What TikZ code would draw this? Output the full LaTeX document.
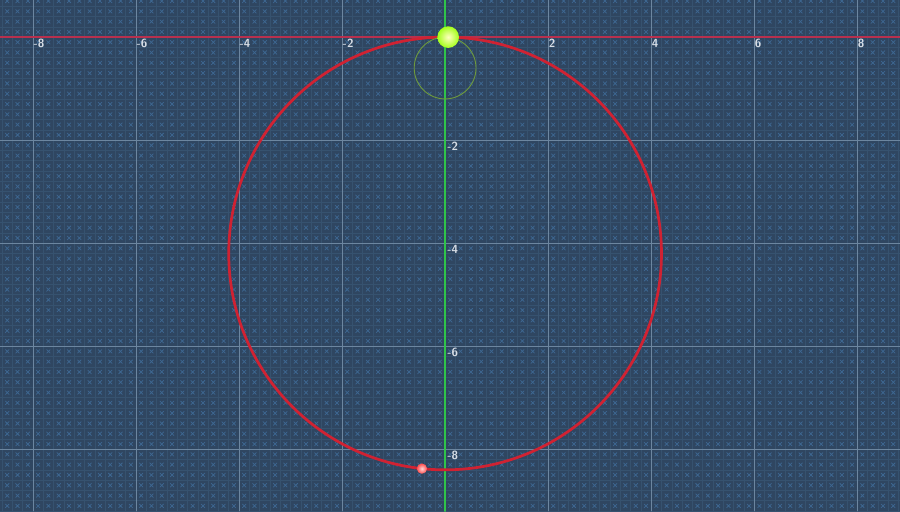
\documentclass[tikz,border=0pt]{standalone}
\usepackage{tikz}

\definecolor{fundo}{HTML}{2F4661}
\definecolor{gradefina}{HTML}{36526F}
\definecolor{xis}{HTML}{41709E}
\definecolor{grade}{HTML}{6C86A0}
\definecolor{eixox}{HTML}{B8304E}
\definecolor{eixoy}{HTML}{2FC44A}
\definecolor{circulo}{HTML}{D02232}
\definecolor{circpeq}{HTML}{6E9A3C}
\definecolor{rotulo}{HTML}{D8DEE6}

\begin{document}
\begin{tikzpicture}[line cap=round,line join=round,
  rotulo/.style={anchor=north west,inner sep=1pt,text=rotulo,font=\fontsize{6.5}{7}\selectfont\sffamily\bfseries}]

% parâmetros
\def\R{4.2}    % raio do círculo grande
\def\r{0.6}    % raio do círculo pequeno

%---------------------------
% fundo e grade
%---------------------------
\fill[fundo] (-8.64,-9.2) rectangle (8.83,0.72);
\useasboundingbox (-8.64,-9.2) rectangle (8.83,0.72);
\draw[gradefina,line width=0.3pt,step=0.2] (-8.64,-9.2) grid (8.83,0.72);
\draw[xis,line width=0.4pt,opacity=0.8]
  foreach \i in {-44,...,43} { foreach \j in {-46,...,3} {
    (\i*0.2+0.065,\j*0.2+0.065) -- ++(0.07,0.07)
    (\i*0.2+0.065,\j*0.2+0.135) -- ++(0.07,-0.07) } };
\draw[grade,line width=0.4pt,step=2] (-8.64,-9.2) grid (8.83,0.72);

%---------------------------
% eixos
%---------------------------
\draw[eixox,line width=0.8pt] (-8.64,0) -- (8.83,0);
\draw[eixoy,line width=0.9pt] (0,-9.2) -- (0,0.72);

% rótulos
\foreach \x in {-8,-6,-4,-2,2,4,6,8}
  \node[rotulo] (rx\x) at (\x-0.03,0) {\x};
\foreach \y in {-2,-4,-6,-8}
  \node[rotulo] (ry\y) at (0,\y) {\y};

%---------------------------
% círculos
%---------------------------
\draw[circulo,line width=1.5pt] (0,-\R) circle[radius=\R];
\draw[circpeq,line width=0.5pt] (0,-\r) circle[radius=\r];

%---------------------------
% pontos
%---------------------------
\coordinate (topo) at (0.06,0);
\coordinate (baixo) at (-0.45,-8.376);
\shade[inner color=yellow!25!white,outer color=yellow!60!green!90!white] (topo) circle[radius=0.21];
\shade[inner color=red!15!white,outer color=red!70!white] (baixo) circle[radius=0.1];

\end{tikzpicture}
\end{document}
